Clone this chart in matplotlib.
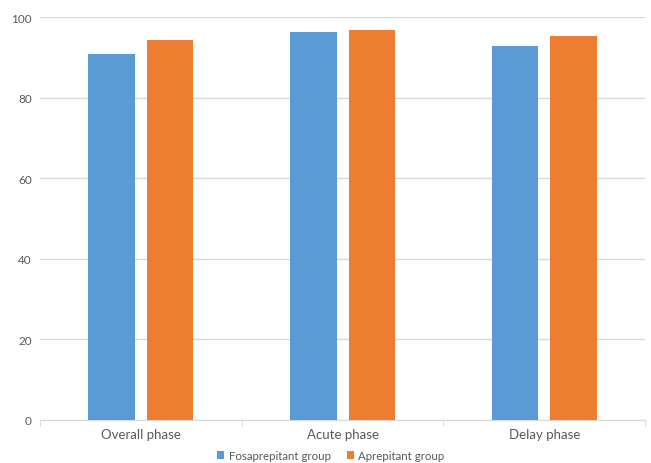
import numpy as np
import matplotlib
matplotlib.use("Agg")
import matplotlib.pyplot as plt

categories = ["Overall phase", "Acute phase", "Delay phase"]
fosaprepitant = [90.9, 96.4, 92.9]
aprepitant = [94.3, 96.9, 95.2]
yticks = [0, 20, 40, 60, 80, 100]

plt.rcParams['font.family'] = ['Lato', 'DejaVu Sans']

fig = plt.figure(figsize=(6.51, 4.64), dpi=100, facecolor='white')
ax = fig.add_axes([0.0614, 0.0927, 0.9296, 0.8683])

x = np.arange(len(categories))
w = 0.23
ax.bar(x - 0.145, fosaprepitant, w, color='#5B9BD5', label='Fosaprepitant group', zorder=3)
ax.bar(x + 0.145, aprepitant, w, color='#ED7D31', label='Aprepitant group', zorder=3)

ax.set_xlim(-0.5, len(categories) - 0.5)
ax.set_ylim(0, 100)
ax.set_yticks(yticks)
ax.set_xticks(x)
ax.set_xticklabels(categories, fontsize=9.5, color='#595959')
ax.tick_params(axis='y', length=0, labelsize=8.5, labelcolor='#595959', pad=6)
ax.tick_params(axis='x', length=0, pad=6)
# category separator ticks like Excel
ax.set_xticks(np.arange(-0.5, len(categories)), minor=True)
ax.tick_params(axis='x', which='minor', length=4, color='#D9D9D9')

ax.grid(axis='y', color='#D9D9D9', linewidth=1, zorder=0)
for s in ['top', 'right', 'left']:
    ax.spines[s].set_visible(False)
ax.spines['bottom'].set_color('#D9D9D9')

leg = fig.legend(loc='lower center', bbox_to_anchor=(0.508, -0.018), ncol=2, frameon=False,
                 fontsize=8.3, handlelength=0.6, handleheight=0.6, columnspacing=1.4, handletextpad=0.4)
for t in leg.get_texts():
    t.set_color('#595959')

fig.savefig('out.png', dpi=100, facecolor='white')
